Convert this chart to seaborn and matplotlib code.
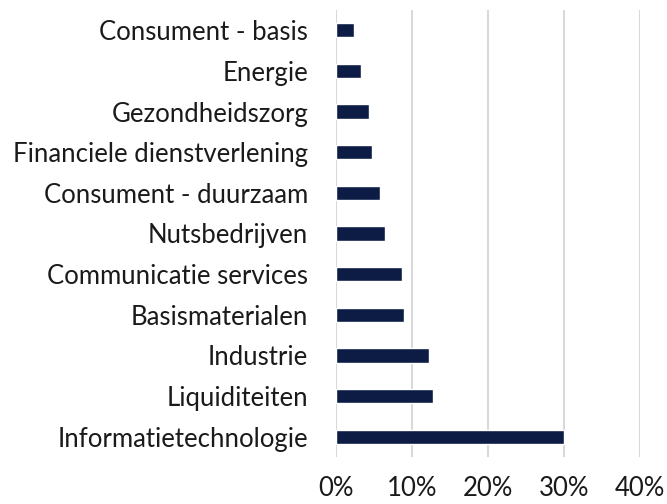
import matplotlib
matplotlib.use('Agg')
import matplotlib.pyplot as plt
import pandas as pd
import seaborn as sns
from matplotlib.ticker import FuncFormatter

sectors = [
    'Consument - basis', 'Energie', 'Gezondheidszorg', 'Financiele dienstverlening',
    'Consument - duurzaam', 'Nutsbedrijven', 'Communicatie services', 'Basismaterialen',
    'Industrie', 'Liquiditeiten', 'Informatietechnologie',
]
weights = [2.4, 3.3, 4.3, 4.8, 5.8, 6.4, 8.7, 9.0, 12.2, 12.8, 30.0]
x_ticks = [0, 10, 20, 30, 40]

df = pd.DataFrame({'sector': sectors, 'weight': weights})

sns.set_style('white')
plt.rcParams['font.family'] = ['Lato', 'DejaVu Sans']

fig = plt.figure(figsize=(6.67, 5.04), dpi=100)
ax = fig.add_axes([336 / 667, 1 - 457 / 504, (640 - 336) / 667, (457 - 10) / 504])

sns.barplot(data=df, x='weight', y='sector', color='#0c1c45', width=0.35,
            saturation=1, ax=ax, zorder=3)

ax.set_xlim(0, 40)
ax.set_ylim(10.5, -0.5)
ax.set_xticks(x_ticks)
ax.xaxis.set_major_formatter(FuncFormatter(lambda v, p: f'{v:.0f}%'))
ax.grid(axis='x', color='#d9d9d9', linewidth=1.5, zorder=0)
ax.grid(axis='y', visible=False)
for s in ax.spines.values():
    s.set_visible(False)
ax.tick_params(axis='both', length=0, labelsize=18.5, colors='#000000')
ax.tick_params(axis='x', pad=14)
ax.tick_params(axis='y', pad=20)
ax.set_xlabel('')
ax.set_ylabel('')
for lbl in ax.get_xticklabels() + ax.get_yticklabels():
    lbl.set_color('#1a1a1a')

fig.savefig('out.png', dpi=100)
